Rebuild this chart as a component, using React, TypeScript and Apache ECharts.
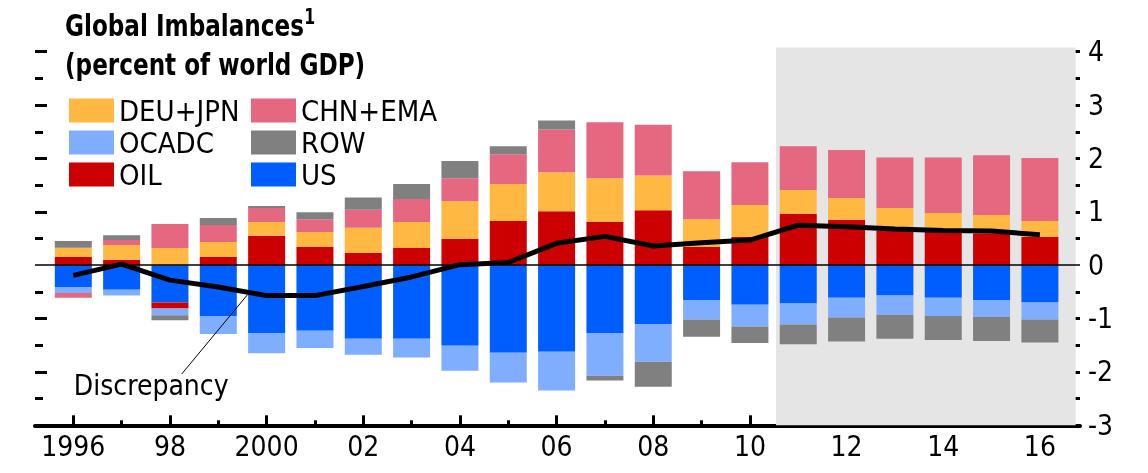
import React, { useEffect, useRef } from 'react';
import * as echarts from 'echarts';

const years = [1996, 1997, 1998, 1999, 2000, 2001, 2002, 2003, 2004, 2005, 2006, 2007, 2008, 2009, 2010, 2011, 2012, 2013, 2014, 2015, 2016];
const labelYears = [1996, 1998, 2000, 2002, 2004, 2006, 2008, 2010, 2012, 2014, 2016];

const us = [-0.41, -0.46, -0.70, -0.95, -1.28, -1.23, -1.38, -1.38, -1.51, -1.64, -1.62, -1.28, -1.10, -0.65, -0.74, -0.72, -0.61, -0.57, -0.61, -0.65, -0.70];
const oil = [0.155, 0.10, -0.11, 0.155, 0.55, 0.34, 0.23, 0.32, 0.49, 0.83, 1.01, 0.81, 1.03, 0.34, 0.53, 0.96, 0.85, 0.65, 0.63, 0.60, 0.53];
const deuJpn = [0.17, 0.28, 0.32, 0.28, 0.26, 0.28, 0.47, 0.49, 0.71, 0.69, 0.73, 0.82, 0.65, 0.52, 0.60, 0.45, 0.41, 0.42, 0.35, 0.34, 0.30];
const ocadc = [-0.11, -0.11, -0.13, -0.34, -0.37, -0.32, -0.30, -0.35, -0.47, -0.56, -0.73, -0.79, -0.71, -0.37, -0.41, -0.39, -0.37, -0.36, -0.34, -0.32, -0.32];
const chnEma = [-0.09, 0.09, 0.45, 0.32, 0.26, 0.24, 0.34, 0.43, 0.43, 0.56, 0.80, 1.05, 0.95, 0.90, 0.80, 0.82, 0.90, 0.95, 1.04, 1.12, 1.18];
const row = [0.13, 0.09, -0.09, 0.13, 0.04, 0.13, 0.23, 0.28, 0.32, 0.15, 0.17, -0.09, -0.47, -0.32, -0.31, -0.37, -0.45, -0.45, -0.45, -0.45, -0.43];
const discrepancy = [-0.19, 0.02, -0.28, -0.41, -0.57, -0.57, -0.40, -0.22, 0.01, 0.05, 0.41, 0.54, 0.36, 0.42, 0.47, 0.75, 0.72, 0.68, 0.65, 0.64, 0.57];

const yLabels = [-3, -2, -1, 0, 1, 2, 3, 4];
const yMajorTicks = [-2, -1, 1, 2, 3, 4];
const yMinorTicks = [-2.5, -1.5, -0.5, 0.5, 1.5, 2.5, 3.5];

const projectionStart = 2010.54;
const projectionEnd = 2016.74;

const FONT = "'Liberation Sans Narrow', 'Arial Narrow', 'DejaVu Sans Condensed', sans-serif";

export default function App() {
  const ref = useRef<HTMLDivElement>(null);
  useEffect(() => {
    const chart = echarts.init(ref.current!, null, { renderer: 'svg' });
    const pair = (arr: number[]) => years.map((y, i) => [y, arr[i]]);
    const bar = (name: string, color: string, arr: number[]) => ({
      type: 'bar',
      name,
      stack: 'total',
      stackStrategy: 'samesign',
      barWidth: 37,
      xAxisIndex: 2,
      yAxisIndex: 4,
      data: arr,
      itemStyle: { color },
      emphasis: { disabled: true },
    });
    const xMin = 1995.2075;
    const xMax = 2016.83;
    const yMin = -3;
    const yMax = 4.08;
    const tickStyle = { color: '#000', width: 3 };
    const yAxisBase = {
      type: 'value', min: yMin, max: yMax,
      axisLine: { show: false, onZero: false },
      splitLine: { show: false },
    };
    chart.setOption({
      animation: false,
      graphic: [
        {
          type: 'text',
          x: 65, y: 6, scaleX: 0.83,
          style: {
            text: '{t|Global Imbalances}{s|1}\n{t|(percent of world GDP)}',
            rich: {
              t: { fontSize: 31, fontWeight: 'bold', fontFamily: FONT, fill: '#000', lineHeight: 37 },
              s: { fontSize: 21, fontWeight: 'bold', fontFamily: FONT, fill: '#000', lineHeight: 40, verticalAlign: 'top' },
            },
          },
        },
      ],
      legend: [
        {
          left: 69, top: 96, orient: 'vertical', padding: 0, itemGap: 3,
          itemWidth: 45, itemHeight: 24, icon: 'rect', selectedMode: false,
          data: ['DEU+JPN', 'OCADC', 'OIL'],
          textStyle: { fontSize: 29, fontFamily: FONT, color: '#000', lineHeight: 24 },
        },
        {
          left: 251, top: 96, orient: 'vertical', padding: 0, itemGap: 3,
          itemWidth: 45, itemHeight: 24, icon: 'rect', selectedMode: false,
          data: ['CHN+EMA', 'ROW', 'US'],
          textStyle: { fontSize: 29, fontFamily: FONT, color: '#000', lineHeight: 24 },
        },
      ],
      grid: [
        { left: 35, right: 68, top: 47.43, bottom: 47.7, containLabel: false, outerBoundsMode: 'none' },
        { left: 49.135, right: 83.93, top: 47.43, bottom: 47.7, containLabel: false, outerBoundsMode: 'none' },
      ],
      xAxis: [
        {
          type: 'value', gridIndex: 0, min: xMin, max: xMax, position: 'bottom',
          axisLine: { show: true, onZero: false, lineStyle: { color: '#000', width: 4 } },
          axisTick: { show: true, inside: true, length: 10, lineStyle: tickStyle, customValues: labelYears },
          axisLabel: {
            customValues: labelYears, fontSize: 28, fontFamily: FONT, color: '#000', margin: 7,
            formatter: (v: number) => (v === 1996 || v === 2000 ? String(v) : String(v).slice(2)),
          },
          splitLine: { show: false },
        },
        {
          type: 'value', gridIndex: 0, min: xMin, max: xMax, position: 'bottom',
          axisLine: { show: false, onZero: false },
          axisTick: { show: true, inside: true, length: 5, lineStyle: tickStyle, customValues: years },
          axisLabel: { show: false },
          splitLine: { show: false },
        },
        {
          type: 'category', gridIndex: 1, data: years.map(String), position: 'bottom',
          axisLine: { show: false, onZero: false },
          axisTick: { show: false },
          axisLabel: { show: false },
          splitLine: { show: false },
        },
      ],
      yAxis: [
        {
          ...yAxisBase, gridIndex: 0, position: 'right',
          axisTick: { show: true, inside: true, length: 12, lineStyle: tickStyle, customValues: yMajorTicks },
          axisLabel: { customValues: yLabels, fontSize: 28, fontFamily: FONT, color: '#000', margin: 8 },
        },
        {
          ...yAxisBase, gridIndex: 0, position: 'right',
          axisTick: { show: true, inside: true, length: 8, lineStyle: tickStyle, customValues: yMinorTicks },
          axisLabel: { show: false },
        },
        {
          ...yAxisBase, gridIndex: 0, position: 'left',
          axisTick: { show: true, inside: true, length: 12, lineStyle: tickStyle, customValues: yMajorTicks },
          axisLabel: { show: false },
        },
        {
          ...yAxisBase, gridIndex: 0, position: 'left',
          axisTick: { show: true, inside: true, length: 8, lineStyle: tickStyle, customValues: yMinorTicks },
          axisLabel: { show: false },
        },
        {
          ...yAxisBase, gridIndex: 1, position: 'left',
          axisTick: { show: false },
          axisLabel: { show: false },
        },
      ],
      series: [
        bar('US', '#005EFF', us),
        bar('OIL', '#CC0000', oil),
        bar('DEU+JPN', '#FFB841', deuJpn),
        bar('OCADC', '#80AEFF', ocadc),
        bar('CHN+EMA', '#E56780', chnEma),
        bar('ROW', '#808080', row),
        {
          type: 'line',
          name: 'Discrepancy',
          xAxisIndex: 0,
          yAxisIndex: 0,
          data: pair(discrepancy),
          symbol: 'none',
          z: 4,
          lineStyle: { color: '#000', width: 5 },
          emphasis: { disabled: true },
          markArea: {
            silent: true,
            z: 1,
            itemStyle: { color: '#E5E5E5' },
            data: [[{ xAxis: projectionStart, yAxis: yMin }, { xAxis: projectionEnd, yAxis: yMax }]],
          },
          markLine: {
            silent: true,
            symbol: ['none', 'none'],
            label: { show: false },
            lineStyle: { color: '#000', width: 1, type: 'solid' },
            data: [
              { yAxis: 0, lineStyle: { width: 1.5 } },
              [{ coord: [1998.243, -2.039] }, { coord: [1999.6, -0.558] }],
            ],
          },
          markPoint: {
            silent: true,
            symbol: 'circle',
            symbolSize: 1,
            itemStyle: { color: 'rgba(0,0,0,0)' },
            data: [
              {
                coord: [1996.0, -2.245],
                label: {
                  show: true, position: 'right', distance: 0, formatter: 'Discrepancy',
                  fontSize: 28, fontFamily: FONT, color: '#000',
                },
              },
            ],
          },
        },
      ],
    });
    return () => chart.dispose();
  }, []);
  return <div ref={ref} style={{ position: 'fixed', left: 0, top: 0, width: 1148, height: 473 }} />;
}
